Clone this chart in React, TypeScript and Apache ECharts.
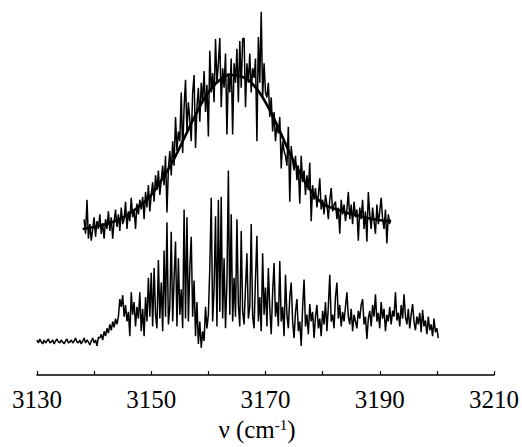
import React, { useEffect, useRef } from 'react';
import * as echarts from 'echarts';

// Wavenumber grid (cm^-1) of the sampled spectra
const STEP = 0.25;
const UPPER_START = 3138.25;
const LOWER_START = 3130;

// Upper trace (noisy band, arbitrary intensity units incl. vertical offset)
const UPPER_VALUES = [
  160, 145, 180, 140, 155, 138, 150, 162,
  142, 158, 150, 165, 145, 156, 140, 160,
  150, 168, 148, 162, 140, 158, 170, 152,
  165, 148, 172, 155, 160, 178, 150, 168,
  158, 182, 162, 170, 150, 176, 165, 180,
  170, 183, 160, 188, 172, 195, 168, 185,
  198, 178, 205, 190, 210, 185, 200, 215,
  195, 225, 167, 212, 230, 205, 240, 215,
  265, 230, 250, 240, 290, 228, 275, 303,
  250, 280, 262, 240, 290, 308, 233, 275,
  295, 260, 300, 280, 312, 270, 298, 245,
  333, 290, 310, 280, 345, 300, 320, 346,
  275, 315, 295, 330, 247, 310, 290, 325,
  247, 320, 300, 335, 280, 343, 295, 345,
  346, 275, 320, 300, 330, 290, 315, 305,
  325, 240, 347, 300, 373, 285, 320, 290,
  285, 300, 265, 285, 250, 270, 240, 258,
  248, 265, 212, 240, 230, 225, 215, 255,
  178, 235, 220, 210, 225, 200, 215, 176,
  225, 198, 210, 185, 205, 190, 218, 158,
  195, 180, 192, 172, 185, 202, 170, 180,
  165, 185, 175, 160, 180, 192, 168, 175,
  178, 160, 172, 145, 180, 165, 175, 158,
  170, 188, 160, 175, 155, 178, 162, 170,
  138, 172, 160, 180, 150, 168, 137, 188,
  165, 150, 172, 158, 145, 175, 155, 168,
  182, 160, 150, 170, 135, 165, 155,
];

// Smooth fitted profile over the upper trace
const FIT_X = [3138, 3140, 3142, 3144, 3146, 3148, 3150, 3152, 3154, 3156, 3158, 3160, 3162, 3164,
  3166, 3168, 3170, 3172, 3174, 3176, 3178, 3180, 3182, 3184, 3186, 3188, 3190, 3192];
const FIT_Y = [150, 152, 155, 159, 165, 174, 185, 202, 222, 246, 270, 290, 303, 308,
  306, 297, 280, 257, 231, 208, 189, 176, 171, 167, 164, 161, 159, 158];

// Lower trace (rotationally resolved spectrum)
const LOWER_VALUES = [
  36, 33, 37, 34, 32, 36, 33, 35, 37, 33,
  34, 36, 32, 35, 37, 34, 33, 36, 34, 32,
  35, 37, 33, 34, 36, 33, 35, 38, 34, 33,
  36, 32, 35, 38, 33, 36, 34, 31, 35, 38,
  33, 36, 30, 39,
  38, 42, 36, 45, 40, 48, 43, 52, 46, 55, 49, 58, 52, 60,
  78, 70, 82, 60, 72, 55, 65, 40, 85, 62, 75, 50, 70, 58, 85, 45, 68, 40, 80, 55,
  100, 60, 105, 50, 110, 62, 48, 118, 58, 95,
  45, 128, 60, 157, 52, 70, 147, 55, 100, 137,
  50, 120, 62, 88, 48, 170, 58, 162, 55, 110,
  142, 60, 97, 40, 75,
  32, 55, 28, 45, 35, 70, 48,
  62, 110, 182, 55, 90, 163, 50, 180, 65, 183,
  58, 120, 48, 95, 210, 62, 165, 55, 100, 60,
  160, 72, 50, 148, 65,
  52, 90, 125, 58, 70, 155, 60, 48, 100, 143,
  55, 80, 45, 125, 62, 90, 50, 110, 68, 42,
  85, 115, 60, 75, 50, 117, 55, 70, 40, 103,
  62, 48, 80, 95, 55, 38, 65, 78, 45,
  55, 30, 70, 98, 50, 62, 42, 73, 55, 65,
  38, 60, 72, 48, 58, 40, 66, 52, 75, 45,
  70, 103, 55, 62, 48, 80, 95, 58, 72, 50,
  65, 55, 70, 85, 60, 52, 68, 45, 62, 55,
  48, 66, 58, 72, 78, 52, 60, 37, 58, 66,
  50, 72, 60, 83, 55, 64, 48, 75, 58, 68,
  45, 62, 55, 70, 52, 66, 60, 85, 56, 64,
  50, 72, 58, 83, 60, 52, 68, 48, 62, 73,
  55, 46, 60, 52, 64, 44, 67, 50, 56, 42,
  60, 46, 52, 40, 58, 44, 48, 38,
];

const X_MIN = 3130;
const X_MAX = 3210;
const X_INTERVAL = 10;
const TICK_LABELS = [3130, 3150, 3170, 3190, 3210];

const SERIF = "'Times New Roman', 'Liberation Serif', Tinos, serif";

function toPairs(start: number, values: number[]) {
  return values.map((v, i) => [start + i * STEP, v]);
}

export default function App() {
  const ref = useRef<HTMLDivElement>(null);

  useEffect(() => {
    if (!ref.current) return;
    const chart = echarts.init(ref.current, null, { renderer: 'svg' });
    chart.setOption({
      animation: false,
      backgroundColor: '#ffffff',
      textStyle: { fontFamily: SERIF },
      grid: { left: 37, right: 26, top: 0, bottom: 62, containLabel: false },
      xAxis: {
        type: 'value',
        min: X_MIN,
        max: X_MAX,
        interval: X_INTERVAL,
        axisLine: { show: true, lineStyle: { color: '#000', width: 1.5 } },
        axisTick: { show: true, inside: true, length: 4, lineStyle: { color: '#000', width: 1.2 } },
        splitLine: { show: false },
        axisLabel: {
          show: true,
          margin: 12,
          color: '#000',
          fontFamily: SERIF,
          fontSize: 25,
          showMinLabel: true,
          showMaxLabel: true,
          formatter: (v: number) => (TICK_LABELS.includes(v) ? String(v) : ''),
        },
        name: '{n|ν (cm}{s|-1}{n|)}',
        nameLocation: 'middle',
        nameGap: 40,
        nameTextStyle: {
          padding: [0, 17, 0, 0],
          fontFamily: SERIF,
          rich: {
            n: { fontFamily: SERIF, fontSize: 25, color: '#000' },
            s: { fontFamily: SERIF, fontSize: 15, color: '#000', verticalAlign: 'top', padding: [0, 0, 8, 0] },
          },
        },
      },
      yAxis: { type: 'value', min: 0, max: 385, show: false },
      series: [
        {
          type: 'line',
          data: toPairs(LOWER_START, LOWER_VALUES),
          showSymbol: false,
          lineStyle: { color: '#000', width: 1.5 },
          itemStyle: { color: '#000' },
        },
        {
          type: 'line',
          data: toPairs(UPPER_START, UPPER_VALUES),
          showSymbol: false,
          lineStyle: { color: '#000', width: 1.5 },
          itemStyle: { color: '#000' },
        },
        {
          type: 'line',
          data: FIT_X.map((x, i) => [x, FIT_Y[i]]),
          showSymbol: false,
          smooth: true,
          z: 5,
          lineStyle: { color: '#000', width: 2.6 },
          itemStyle: { color: '#000' },
        },
      ],
    });
    return () => chart.dispose();
  }, []);

  return (
    <div
      ref={ref}
      style={{ position: 'fixed', left: 0, top: 0, width: 522, height: 447, background: '#fff' }}
    />
  );
}
